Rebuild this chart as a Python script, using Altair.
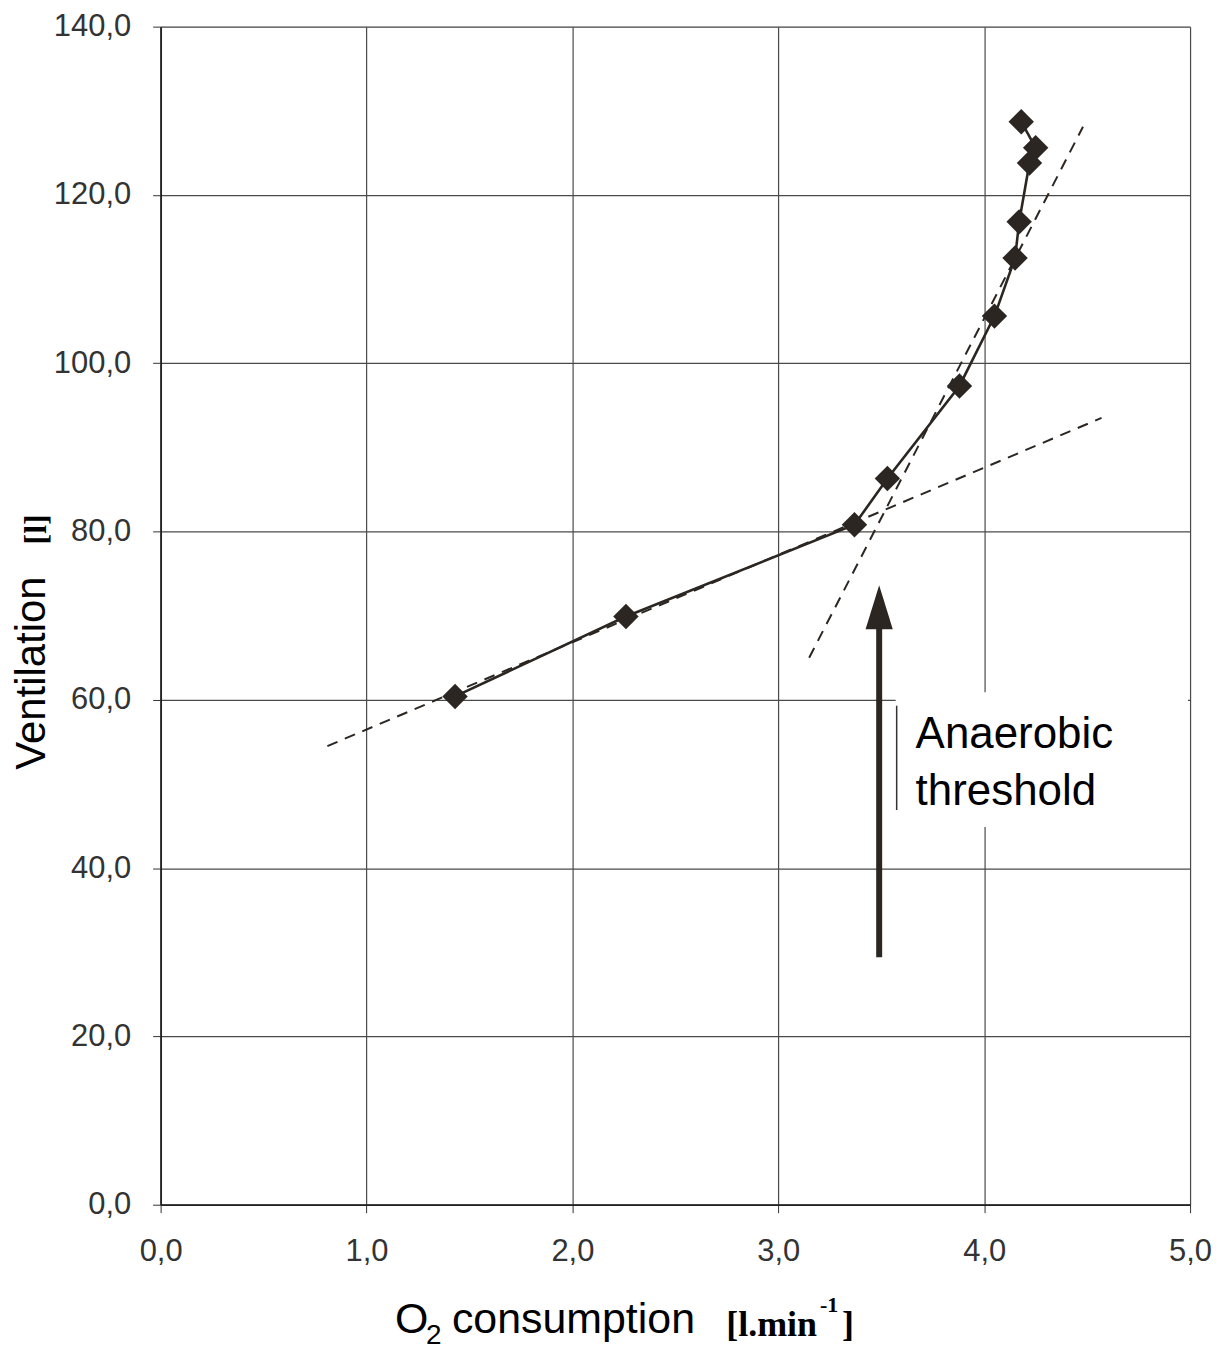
import altair as alt
import pandas as pd

# Measured points (O2 consumption [l/min], ventilation [l])
o2 = [1.43, 2.26, 3.37, 3.53, 3.88, 4.05, 4.15, 4.17, 4.22, 4.25, 4.18]
vent = [60.4, 69.9, 80.8, 86.3, 97.3, 105.6, 112.5, 116.8, 123.8, 125.6, 128.7]
seq = list(range(len(o2)))

# Dashed regression lines
low_x = [0.81, 4.57]
low_y = [54.5, 93.5]
high_x = [3.15, 4.48]
high_y = [65.0, 128.1]

# Arrow (threshold marker)
arrow_x = [3.49]
arrow_y0 = [29.4]
arrow_y1 = [68.5]
arrow_head_y = [71.0]

# Label box
box_x = [3.57]
box_x2 = [4.99]
box_y = [44.9]
box_y2 = [60.9]
label_x = [3.667, 3.667]
label_y = [54.3, 47.5]
label_txt = ["Anaerobic", "threshold"]

x_ticks = [0, 1, 2, 3, 4, 5]
y_ticks = [0, 20, 40, 60, 80, 100, 120, 140]

DARK = "#2b2622"
FONT = "Liberation Sans"
SERIF = "Liberation Serif"

xs = alt.Scale(domain=[0, 5], nice=False, zero=False)
ys = alt.Scale(domain=[0, 140], nice=False)
lab = "replace(format(datum.value, '.1f'), '.', ',')"

common = dict(labelExpr=lab, title=None, grid=True, gridColor="#4a4a4a",
              gridWidth=1.2, tickSize=8, tickColor="#333", domainColor="#222",
              domainWidth=1.8, labelFontSize=31, labelColor="#333",
              labelFont=FONT, labelFlush=False)
xaxis = alt.Axis(values=x_ticks, labelPadding=24, **common)
yaxis = alt.Axis(values=y_ticks, labelPadding=22, **common)

pts = pd.DataFrame({"o2": o2, "vent": vent, "seq": seq})

base_axes = alt.Chart(pts).mark_point(opacity=0).encode(
    x=alt.X("o2:Q", scale=xs, axis=xaxis),
    y=alt.Y("vent:Q", scale=ys, axis=yaxis),
)

line = alt.Chart(pts).mark_line(color=DARK, strokeWidth=2.6).encode(
    x=alt.X("o2:Q", scale=xs), y=alt.Y("vent:Q", scale=ys), order="seq:Q")

diamonds = alt.Chart(pts).mark_point(shape="diamond", filled=True, size=650,
                                     color=DARK, opacity=1).encode(
    x=alt.X("o2:Q", scale=xs), y=alt.Y("vent:Q", scale=ys))

fits = pd.DataFrame({
    "x": low_x + high_x,
    "y": low_y + high_y,
    "g": ["low", "low", "high", "high"],
})
dashed = alt.Chart(fits).mark_line(color=DARK, strokeWidth=2,
                                   strokeDash=[11, 8]).encode(
    x=alt.X("x:Q", scale=xs), y=alt.Y("y:Q", scale=ys), detail="g:N")

arr = pd.DataFrame({"x": arrow_x, "y0": arrow_y0, "y1": arrow_y1, "yh": arrow_head_y})
shaft = alt.Chart(arr).mark_rule(color=DARK, strokeWidth=6).encode(
    x=alt.X("x:Q", scale=xs), y=alt.Y("y0:Q", scale=ys), y2="y1:Q")
head = alt.Chart(arr).mark_point(shape="M0,-1L0.62,1L-0.62,1Z", filled=True,
                                 size=1936, color=DARK, opacity=1).encode(
    x=alt.X("x:Q", scale=xs), y=alt.Y("yh:Q", scale=ys))

box = pd.DataFrame({"x": box_x, "x2": box_x2, "y": box_y, "y2": box_y2})
box_rect = alt.Chart(box).mark_rect(fill="white").encode(
    x=alt.X("x:Q", scale=xs), x2="x2:Q", y=alt.Y("y:Q", scale=ys), y2="y2:Q")
box_edge = alt.Chart(pd.DataFrame({"x": [3.575], "y": [46.9], "y2": [59.3]})).mark_rule(
    color="#333", strokeWidth=1.5).encode(
    x=alt.X("x:Q", scale=xs), y=alt.Y("y:Q", scale=ys), y2="y2:Q")

labels = alt.Chart(pd.DataFrame({"x": label_x, "y": label_y, "t": label_txt})).mark_text(
    align="left", baseline="alphabetic", fontSize=44, font=FONT, color="black").encode(
    x=alt.X("x:Q", scale=xs), y=alt.Y("y:Q", scale=ys), text="t:N")

one = pd.DataFrame({"a": [0]})


def ann(text, px, py, size, angle=0, font=FONT, weight="normal", align="left",
        baseline="alphabetic"):
    kw = dict(fontSize=size, font=font, fontWeight=weight, color="black",
              align=align, baseline=baseline)
    if angle:
        kw["angle"] = angle
    return alt.Chart(one).mark_text(**kw).encode(
        x=alt.value(px), y=alt.value(py), text=alt.value(text))


yt = ann("Ventilation", -129, 648, 42, angle=270, align="center", baseline="middle")
yu = ann("[l]", -125, 504, 32, angle=270, font=SERIF, weight="bold",
         align="center", baseline="middle")
xt1 = ann("O", 235, 1310, 43)
xt2 = ann("2", 266, 1321, 28)
xt3 = ann("consumption", 292, 1310, 43)
xu1 = ann("[l.min", 567, 1313, 36, font=SERIF, weight="bold")
xu2 = ann("-1", 661, 1289, 22, font=SERIF, weight="bold")
xu3 = ann("]", 683, 1313, 36, font=SERIF, weight="bold")

chart = alt.layer(
    base_axes, box_rect, box_edge, dashed, line, diamonds, shaft, head, labels,
    yt, yu, xt1, xt2, xt3, xu1, xu2, xu3,
).properties(
    width=1032, height=1181,
    autosize=alt.AutoSizeParams(type="none"),
    padding={"left": 153, "top": 17, "right": 26, "bottom": 150},
).configure_view(stroke="#222", strokeWidth=1.8).configure(background="white")

chart.save("out.html", embed_options={"renderer": "svg", "actions": False})
